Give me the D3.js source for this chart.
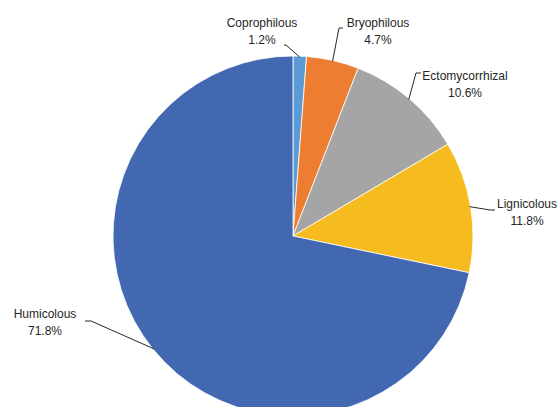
<!DOCTYPE html>
<html>
<head>
<meta charset="utf-8">
<script src="https://cdn.jsdelivr.net/npm/d3@7/dist/d3.min.js"></script>
<style>
  html, body { margin: 0; padding: 0; background: #fff; }
  svg text { font-family: "Liberation Sans", Arial, sans-serif; font-size: 12px; fill: #262626; }
</style>
</head>
<body>
<svg id="chart" width="560" height="407"></svg>
<script>
// Substrate groups, clockwise from 12 o'clock
const categories = ["Coprophilous", "Bryophilous", "Ectomycorrhizal", "Lignicolous", "Humicolous"];
const shares = [1.2, 4.7, 10.6, 11.8, 71.8];
const colors = ["#5b9bd5", "#ed7d31", "#a5a5a5", "#f6bb1e", "#4168b1"];

// Label placement: text centre and the elbow where the leader leaves the text
const labelLayout = [
  { x: 262, y: 23, elbow: [286, 45], start: [284, 45] },
  { x: 378, y: 23, elbow: [339, 28], start: [343, 28] },
  { x: 465, y: 76, elbow: [416, 73], start: [421, 73] },
  { x: 527, y: 204, elbow: [490, 210], start: [495, 210] },
  { x: 45, y: 314, elbow: [91, 321], start: [85, 321] }
];

const cx = 293, cy = 236, radius = 180;
const svg = d3.select("#chart");
const g = svg.append("g").attr("transform", `translate(${cx},${cy})`);

const pie = d3.pie().sort(null).value(d => d.value);
const arcs = pie(categories.map((c, i) => ({ name: c, value: shares[i] })));
const arc = d3.arc().innerRadius(0).outerRadius(radius);

g.selectAll("path.slice")
  .data(arcs)
  .join("path")
  .attr("class", "slice")
  .attr("d", arc)
  .attr("fill", (d, i) => colors[i])
  .attr("stroke", "#ffffff")
  .attr("stroke-width", 0.8);

// Leader lines from each label to the rim at the slice's mid-angle
const rim = d => {
  const a = (d.startAngle + d.endAngle) / 2;
  return [cx + Math.sin(a) * (radius - 1), cy - Math.cos(a) * (radius - 1)];
};

svg.selectAll("polyline.leader")
  .data(arcs)
  .join("polyline")
  .attr("class", "leader")
  .attr("points", (d, i) => {
    const L = labelLayout[i];
    return [L.start, L.elbow, rim(d)].map(p => p.join(",")).join(" ");
  })
  .attr("fill", "none")
  .attr("stroke", "#262626")
  .attr("stroke-width", 1);

const labels = svg.selectAll("g.label")
  .data(arcs)
  .join("g")
  .attr("class", "label")
  .attr("transform", (d, i) => `translate(${labelLayout[i].x},${labelLayout[i].y})`);

labels.append("text")
  .attr("text-anchor", "middle")
  .attr("dy", "0.35em")
  .text(d => d.data.name);

labels.append("text")
  .attr("text-anchor", "middle")
  .attr("y", 17)
  .attr("dy", "0.35em")
  .text(d => d.data.value.toFixed(1) + "%");
</script>
</body>
</html>
